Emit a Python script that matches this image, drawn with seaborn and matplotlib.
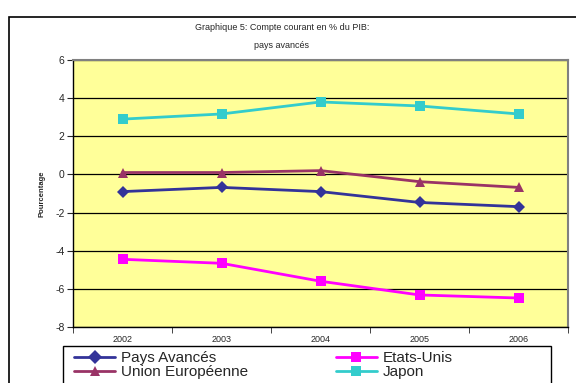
import seaborn as sns
import matplotlib.pyplot as plt
import matplotlib.patches as patches
import pandas as pd

years = ["2002", "2003", "2004", "2005", "2006"]
pays_avances = [-0.9, -0.68, -0.9, -1.47, -1.69]
union_europeenne = [0.1, 0.1, 0.2, -0.38, -0.68]
etats_unis = [-4.45, -4.66, -5.6, -6.32, -6.48]
japon = [2.9, 3.17, 3.8, 3.59, 3.17]

series = ["Pays Avancés", "Union Européenne", "Etats-Unis", "Japon"]
colors = ["#333399", "#993366", "#FF00FF", "#33CCCC"]
markers = ["D", "^", "s", "s"]

df = pd.DataFrame({
    "Année": years * 4,
    "Valeur": pays_avances + union_europeenne + etats_unis + japon,
    "Série": [s for s in series for _ in years],
})

sns.set_style("white")
plt.rcParams["font.family"] = ["Liberation Sans", "DejaVu Sans"]
plt.rcParams["axes.unicode_minus"] = False

fig = plt.figure(figsize=(5.76, 3.83), dpi=100)
ax = fig.add_axes([73 / 576, 1 - 327 / 383, (568 - 73) / 576, (327 - 60) / 383])

# outer chart frame (cut off on right and bottom like the source)
fig.patches.append(patches.Rectangle((9 / 576, -0.1), 1.1, 1 - 17 / 383 + 0.1,
                                     transform=fig.transFigure, fill=False,
                                     edgecolor="black", linewidth=1.2))
# legend box, bottom edge cut off
fig.patches.append(patches.Rectangle((63 / 576, -0.1), (551 - 63) / 576, 1 - 346 / 383 + 0.1,
                                     transform=fig.transFigure, fill=False,
                                     edgecolor="black", linewidth=1))

ax.set_facecolor("#FFFF99")
sns.lineplot(data=df, x="Année", y="Valeur", hue="Série", style="Série",
             hue_order=series, style_order=series,
             palette=colors, markers=markers, dashes=False,
             markersize=6.5, linewidth=2, markeredgewidth=0, ax=ax, zorder=3)

ax.set_ylim(-8, 6)
ax.set_yticks(range(-8, 7, 2))
ax.set_xlim(-0.5, 4.5)
ax.yaxis.grid(True, color="black", linewidth=0.9)
ax.set_axisbelow(True)
ax.tick_params(axis="y", labelsize=7.5, length=4, direction="out", left=True, pad=2)
ax.tick_params(axis="x", labelsize=6.5, length=0, pad=6)
ax.set_xticks(range(5))
ax.set_xticks([i + 0.5 for i in range(-1, 5)], minor=True)
ax.tick_params(axis="x", which="minor", length=4, direction="out", bottom=True)

for side in ["left", "bottom"]:
    ax.spines[side].set_color("black")
    ax.spines[side].set_linewidth(1)
for side in ["top", "right"]:
    ax.spines[side].set_color("#808080")
    ax.spines[side].set_linewidth(1.5)

ax.set_xlabel("")
ax.set_ylabel("Pourcentage", fontsize=5.5, fontweight="bold", labelpad=7)

fig.text(282 / 576, 1 - 27 / 383, "Graphique 5: Compte courant en % du PIB:",
         ha="center", va="center", fontsize=6.5)
fig.text(282 / 576, 1 - 45 / 383, "pays avancés",
         ha="center", va="center", fontsize=6.5)

handles, labels = ax.get_legend_handles_labels()
ax.legend().remove()
for h in handles:
    h.set_markersize(7)
leg = fig.legend(handles, labels, ncol=2, loc="upper left",
                 bbox_to_anchor=(74 / 576, 1 - 351 / 383),
                 fontsize=11, frameon=False, handlelength=2.7, handletextpad=0.4,
                 labelspacing=0.0, borderpad=0, borderaxespad=0,
                 columnspacing=5.7)

fig.savefig("out.png", dpi=100)
